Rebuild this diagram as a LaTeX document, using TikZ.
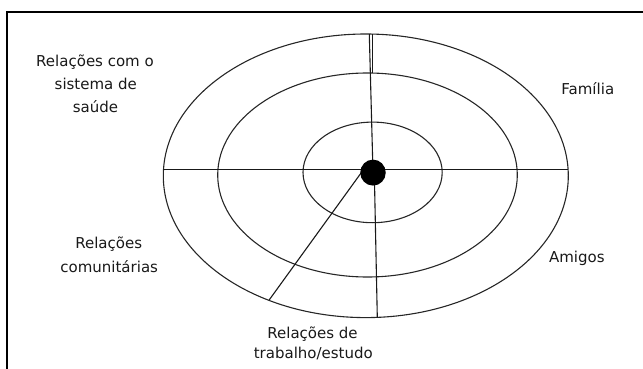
\documentclass[tikz,border=0pt]{standalone}
\usepackage{fontspec}
\setmainfont{DejaVu Sans}
\usetikzlibrary{shapes.geometric}
\begin{document}
\begin{tikzpicture}[x=1pt,y=-1pt,
  ring/.style={draw=black!85,line width=1.1pt},
  spoke/.style={draw=black!90,line width=1.1pt},
  lbl/.style={anchor=base,inner sep=0pt,font=\fontsize{15}{18}\selectfont,text=black!90}]
\useasboundingbox (0,0) rectangle (643,369);
% frame (only top and left edges fall inside the picture)
\coordinate (fbl) at (7,369);
\coordinate (ftl) at (7,12);
\coordinate (ftr) at (643,12);
\draw[line width=1.4pt] (fbl) -- (ftl) -- (ftr);
% ring centres
\coordinate (co) at (365.8,175.8);
\coordinate (cm) at (367.5,175.0);
\coordinate (ci) at (372.6,172.4);
\draw[ring] (co) ellipse [x radius=202.5, y radius=141.8];
\draw[ring] (cm) ellipse [x radius=149.8, y radius=102];
\draw[ring] (ci) ellipse [x radius=69.6, y radius=50.3];
% spoke end points
\coordinate (hl) at (163.3,169.3);
\coordinate (hr) at (568.3,169.3);
\coordinate (vt1) at (369.3,34.2);
\coordinate (vt2) at (372.7,34.2);
\coordinate (vm2) at (372.7,73.3);
\coordinate (vd) at (372.8,165);
\coordinate (vb0) at (374.3,172);
\coordinate (vb) at (377.3,317.6);
\coordinate (d0) at (361.4,172.5);
\coordinate (d1) at (269.3,299.8);
\draw[spoke] (hl) -- (hr);
\draw[spoke] (vt1) -- (vd);
\draw[spoke] (vt2) -- (vm2);
\draw[spoke] (vb0) -- (vb);
\draw[spoke] (d0) -- (d1);
% centre dot
\node[ellipse,fill=black,inner sep=0pt,minimum width=25.5pt,minimum height=26pt] (dot) at (373,172.6) {};
% labels
\node[lbl] (s1) at (95,66.7) {Relações com o};
\node[lbl] (s2) at (95.8,89.3) {sistema de};
\node[lbl] (s3) at (95.5,112.7) {saúde};
\node[lbl] (fam) at (587.8,94.3) {Família};
\node[lbl] (c1) at (108.7,248.3) {Relações};
\node[lbl] (c2) at (109.2,272.7) {comunitárias};
\node[lbl] (ami) at (576.8,262.3) {Amigos};
\node[lbl] (t1) at (312.5,338.5) {Relações de};
\node[lbl] (t2) at (313.3,358.8) {trabalho/estudo};
\end{tikzpicture}
\end{document}
